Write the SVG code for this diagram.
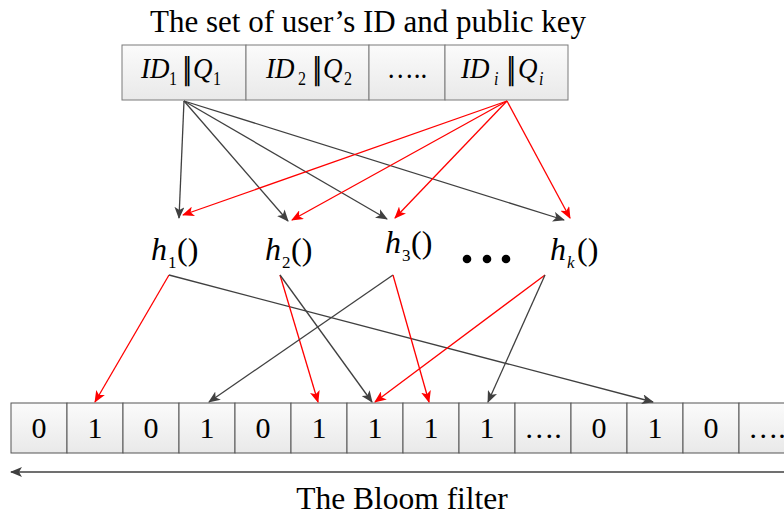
<svg xmlns="http://www.w3.org/2000/svg" width="784" height="515" viewBox="0 0 784 515">
<style>
text{font-family:'Liberation Serif','Times New Roman',serif;fill:#000}
.title{font-size:31px}
.box{fill:url(#g);stroke:#7a7a7a;stroke-width:1}
.cell{fill:url(#g);stroke:#555;stroke-width:1}
.bt{font-size:27px}
.it{font-style:italic}
.sub{font-size:16px}
.bar{font-family:'DejaVu Sans','Liberation Sans',sans-serif;font-size:27px;font-weight:bold}
.dots{font-size:27px;text-anchor:middle}
.h{font-size:32px}
.hs{font-size:17px}
.num{font-size:30px;text-anchor:middle}
.k{stroke:#404040;stroke-width:1.3;fill:none;marker-end:url(#ak)}
.r{stroke:#ff0000;stroke-width:1.3;fill:none;marker-end:url(#ar)}
</style>
<defs>
<linearGradient id="g" x1="0" y1="0" x2="0" y2="1">
<stop offset="0" stop-color="#fbfbfb"/>
<stop offset="1" stop-color="#e9e9e9"/>
</linearGradient>
<marker id="ak" viewBox="0 0 12 10" refX="11" refY="5" markerWidth="12" markerHeight="10" markerUnits="userSpaceOnUse" orient="auto">
<path d="M0,0 L12,5 L0,10 L3,5 Z" fill="#404040"/>
</marker>
<marker id="ar" viewBox="0 0 12 10" refX="11" refY="5" markerWidth="12" markerHeight="10" markerUnits="userSpaceOnUse" orient="auto">
<path d="M0,0 L12,5 L0,10 L3,5 Z" fill="#ff0000"/>
</marker>
</defs>
<rect width="784" height="515" fill="#fff"/>

<g id="title"><text class="title" x="368" y="32" text-anchor="middle">The set of user’s ID and public key</text></g>

<g id="key-set">
<rect class="box" x="122" y="45" width="124" height="55"/>
<rect class="box" x="246" y="45" width="123" height="55"/>
<rect class="box" x="369" y="45" width="76" height="55"/>
<rect class="box" x="445" y="45" width="123" height="55"/>
<g transform="translate(0,78) scale(1,1.12)">
<text class="bt" y="0"><tspan class="it" x="141">ID</tspan><tspan class="sub" x="169" dy="6">1</tspan></text>
<text class="bar" x="183" y="1" textLength="8" lengthAdjust="spacingAndGlyphs">‖</text>
<text class="bt" y="0"><tspan class="it" x="193">Q</tspan><tspan class="sub" x="213" dy="6">1</tspan></text>
<text class="bt" y="0"><tspan class="it" x="266">ID</tspan><tspan class="sub" x="298" dy="6">2</tspan></text>
<text class="bar" x="313" y="1" textLength="8" lengthAdjust="spacingAndGlyphs">‖</text>
<text class="bt" y="0"><tspan class="it" x="323">Q</tspan><tspan class="sub" x="344" dy="6">2</tspan></text>
<text class="dots" x="407" y="0">…..</text>
<text class="bt" y="0"><tspan class="it" x="461">ID</tspan><tspan class="sub it" x="494" dy="6">i</tspan></text>
<text class="bar" x="507" y="1" textLength="8" lengthAdjust="spacingAndGlyphs">‖</text>
<text class="bt" y="0"><tspan class="it" x="518">Q</tspan><tspan class="sub it" x="539" dy="6">i</tspan></text>
</g>
</g>

<g id="h1"><text class="h" y="260"><tspan class="it" x="151">h</tspan><tspan class="hs" x="168" dy="8">1</tspan><tspan x="177" dy="-8">()</tspan></text></g>
<g id="h2"><text class="h" y="260"><tspan class="it" x="265">h</tspan><tspan class="hs" x="282" dy="8">2</tspan><tspan x="291" dy="-8">()</tspan></text></g>
<g id="h3"><text class="h" y="253"><tspan class="it" x="385">h</tspan><tspan class="hs" x="402" dy="8">3</tspan><tspan x="411" dy="-8">()</tspan></text></g>
<g id="dots"><circle cx="467" cy="259" r="4.3"/><circle cx="487" cy="259" r="4.3"/><circle cx="506" cy="259" r="4.3"/></g>
<g id="hk"><text class="h" y="260"><tspan class="it" x="550">h</tspan><tspan class="hs it" x="567" dy="8">k</tspan><tspan x="577" dy="-8">()</tspan></text></g>

<g id="bloom-filter">
<rect class="cell" x="11" y="403" width="56" height="50"/>
<rect class="cell" x="67" y="403" width="56" height="50"/>
<rect class="cell" x="123" y="403" width="56" height="50"/>
<rect class="cell" x="179" y="403" width="56" height="50"/>
<rect class="cell" x="235" y="403" width="56" height="50"/>
<rect class="cell" x="291" y="403" width="56" height="50"/>
<rect class="cell" x="347" y="403" width="56" height="50"/>
<rect class="cell" x="403" y="403" width="56" height="50"/>
<rect class="cell" x="459" y="403" width="56" height="50"/>
<rect class="cell" x="515" y="403" width="56" height="50"/>
<rect class="cell" x="571" y="403" width="56" height="50"/>
<rect class="cell" x="627" y="403" width="56" height="50"/>
<rect class="cell" x="683" y="403" width="56" height="50"/>
<rect class="cell" x="739" y="403" width="56" height="50"/>
<text class="num" x="39" y="438">0</text>
<text class="num" x="95" y="438">1</text>
<text class="num" x="151" y="438">0</text>
<text class="num" x="207" y="438">1</text>
<text class="num" x="263" y="438">0</text>
<text class="num" x="319" y="438">1</text>
<text class="num" x="375" y="438">1</text>
<text class="num" x="431" y="438">1</text>
<text class="num" x="487" y="438">1</text>
<text class="num" x="543" y="438">….</text>
<text class="num" x="599" y="438">0</text>
<text class="num" x="655" y="438">1</text>
<text class="num" x="711" y="438">0</text>
<text class="num" x="767" y="438">….</text>
</g>

<g id="connectors">
<path class="k" d="M184,101 L179,218"/>
<path class="k" d="M184,101 L288,221"/>
<path class="k" d="M184,101 L387,219"/>
<path class="k" d="M184,101 L564,220"/>
<path class="r" d="M507,101 L183,215"/>
<path class="r" d="M507,101 L292,220"/>
<path class="r" d="M507,101 L395,218"/>
<path class="r" d="M507,101 L570,218"/>
<path class="r" d="M169,275 L95,402"/>
<path class="k" d="M169,275 L653,402"/>
<path class="r" d="M280,275 L318,402"/>
<path class="k" d="M280,275 L372,402"/>
<path class="k" d="M393,275 L209,402"/>
<path class="r" d="M393,275 L429,402"/>
<path class="r" d="M545,275 L375,402"/>
<path class="k" d="M545,275 L488,402"/>
<path class="k" d="M784,472 L11,472"/>
</g>

<g id="caption"><text class="title" x="402" y="509" text-anchor="middle" style="font-size:31.5px">The Bloom filter</text></g>
</svg>
